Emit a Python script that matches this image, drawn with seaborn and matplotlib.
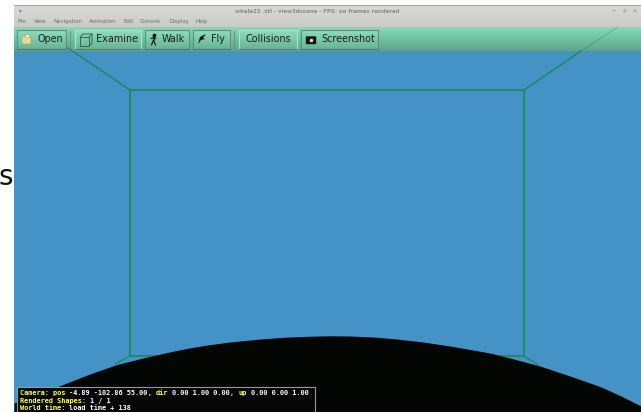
"""
view3dscene window screenshot, drawn in pixel coordinates.
"""
import matplotlib
matplotlib.use('Agg')
import matplotlib.pyplot as plt
from matplotlib.colors import LinearSegmentedColormap
from matplotlib.patches import Rectangle, FancyBboxPatch, Polygon
import numpy as np
import pandas as pd
import seaborn as sns

# wireframe of the room
box_x = [130, 524, 524, 130, 130]
box_y = [90, 90, 356, 356, 90]
diag_left_top_x = [130, 68]
diag_left_top_y = [90, 48]
diag_right_top_x = [524, 581]
diag_right_top_y = [90, 51]
diag_right_faint_x = [581, 618]
diag_right_faint_y = [51, 27]
diag_left_bottom_x = [130, 115]
diag_left_bottom_y = [356, 364]
diag_right_bottom_x = [524, 538]
diag_right_bottom_y = [356, 365]

# whale silhouette
whale_x = [14, 54, 91, 117, 147, 174, 190, 210, 230, 257, 283, 310, 330, 350, 373,
           397, 423, 450, 470, 490, 510, 540, 570, 600, 620, 641]
whale_y = [403, 388, 373.5, 364.5, 357, 351, 347.8, 344.6, 342, 339.3, 337.3, 336.2, 335.8, 336, 337,
           339, 342, 346, 349.5, 353, 358, 366, 376, 386.5, 395.5, 406]

menu_items = ['File', 'View', 'Navigation', 'Animation', 'Edit', 'Console', 'Display', 'Help']
menu_pos = [18, 34, 54, 89, 124, 140, 169, 196]
button_labels = ['Open', 'Examine', 'Walk', 'Fly', 'Collisions', 'Screenshot']
button_left = [17, 75, 145, 193, 239, 301]
button_right = [66, 141, 189, 230, 297, 378]
button_pressed = [False, True, False, False, True, False]
label_left = [37, 96, 162, 211, 246, 321]

# (char offset, text, colour) runs of the status box
status_rows = [
    [(0, 'Camera: pos', '#ffff55'), (12, '-4.89 -102.86 55.00', '#ffffff'), (31, ',', '#ffff55'),
     (33, 'dir', '#ffff55'), (37, '0.00 1.00 0.00', '#ffffff'), (51, ',', '#ffff55'),
     (53, 'up', '#ffff55'), (56, '0.00 0.00 1.00', '#ffffff')],
    [(0, 'Rendered Shapes:', '#ffff55'), (17, '1 / 1', '#ffffff')],
    [(0, 'World time:', '#ffff55'), (12, 'load time + 138', '#ffffff')],
]
status_y = [393, 401, 408.5]

sns.set_theme(style='white')
plt.rcParams['font.family'] = ['DejaVu Sans']

fig = plt.figure(figsize=(6.41, 4.12), dpi=100, facecolor='white')
ax = fig.add_axes([0, 0, 1, 1])


def gradient(top, bottom, x0, x1, y0, y1, z):
    cmap = LinearSegmentedColormap.from_list('g', [top, bottom])
    ax.imshow(np.linspace(0, 1, 64).reshape(-1, 1), cmap=cmap, aspect='auto',
              extent=[x0, x1, y1, y0], zorder=z)


# window chrome and scene background
ax.add_patch(Rectangle((14, 51), 627, 361, color='#4592c6', lw=0, zorder=1))
gradient('#d9d9d6', '#cbcbc8', 14, 641, 5, 27, 1)
gradient('#82dcbc', '#5da58c', 14, 641, 27, 51, 1)
ax.plot([14, 641], [5.3, 5.3], color='#a8a8a8', lw=0.8, zorder=2)

# whale
ax.fill_between(whale_x, whale_y, 412, color='#030603', lw=0, zorder=4)

# wireframe
line_color = '#1d8a5e'
for xs, ys, lw, alpha in [
    (box_x, box_y, 1.3, 1),
    (diag_left_top_x, diag_left_top_y, 1.1, 1),
    (diag_right_top_x, diag_right_top_y, 1.1, 1),
    (diag_right_faint_x, diag_right_faint_y, 0.8, 0.35),
    (diag_left_bottom_x, diag_left_bottom_y, 1.0, 1),
    (diag_right_bottom_x, diag_right_bottom_y, 1.0, 1),
]:
    df = pd.DataFrame({'x': xs, 'y': ys})
    sns.lineplot(data=df, x='x', y='y', sort=False, estimator=None, color=line_color,
                 lw=lw, alpha=alpha, ax=ax, zorder=3)

# title bar and menu
ax.text(317, 11, 'whale23 .stl - view3dscene - FPS: no frames rendered', fontsize=3.9,
        color='#8a8a8a', ha='center', va='center', fontweight='bold', zorder=6)
for name, px in zip(menu_items, menu_pos):
    ax.text(px, 21, name, fontsize=3.9, color='#707070', va='center', zorder=6)
ax.text(20.5, 11, '▾', fontsize=4, color='#777777', ha='center', va='center', zorder=6)
for px, ch in zip([613, 624, 634], ['−', '+', '×']):
    ax.text(px, 11, ch, fontsize=5, color='#999999', ha='center', va='center', zorder=6)

# toolbar buttons
for name, x0, x1, tx, pressed in zip(button_labels, button_left, button_right, label_left, button_pressed):
    gradient('#8edcc0', '#68b498', x0, x1, 30, 49, 5)
    ec = '#a6e6cf' if pressed else '#5f8f7e'
    ax.add_patch(Rectangle((x0, 30), x1 - x0, 19, fc='none', ec=ec, lw=0.8, zorder=5))
    ax.plot([x0, x1], [49, 49], color='#4f7d6d', lw=0.8, zorder=5)
    ax.text(tx, 39.2, name, fontsize=6.9, color='#14201c', va='center', zorder=6)
for px in [70, 234]:
    ax.plot([px, px], [31, 48], color='#5f9e8a', lw=0.8, zorder=5)

# toolbar icons
ax.add_patch(FancyBboxPatch((22.5, 36.5), 8, 7, boxstyle='round,pad=0.5', fc='#e6dc9a', ec='#b0a45c', lw=0.5, zorder=6))
ax.add_patch(Rectangle((24.5, 33.5), 4, 3, fc='#f3f0d8', ec='#a89a50', lw=0.4, zorder=6))
ax.add_patch(Rectangle((80, 37), 9, 9, fc='none', ec='#35504a', lw=0.6, zorder=6))
ax.plot([80, 83, 92, 92, 89], [37, 34, 34, 43, 46], color='#35504a', lw=0.6, zorder=6)
ax.plot([89, 92], [37, 34], color='#35504a', lw=0.6, zorder=6)
ax.plot([151.5, 153.5, 155.5], [45, 40, 45], color='#101010', lw=0.8, zorder=6)
ax.plot([151, 153.5, 156], [38.5, 37.5, 38.5], color='#101010', lw=0.8, zorder=6)
ax.plot([153.5, 153.5], [37, 40], color='#101010', lw=1.1, zorder=6)
ax.plot([153.5], [35.3], 'o', ms=1.7, color='#101010', zorder=6)
ax.add_patch(Polygon([[198, 44], [200, 37], [206, 34], [203, 38], [205, 39], [201, 40]], fc='#101010', lw=0, zorder=6))
ax.add_patch(FancyBboxPatch((306.5, 37), 9, 6.5, boxstyle='round,pad=0.5', fc='#151515', ec='#151515', lw=0.3, zorder=6))
ax.plot([311], [40.2], 'o', ms=3, mfc='#dddddd', mec='#151515', mew=0.5, zorder=6)

# stray letter left of the window
ax.text(13, 185, 's', fontsize=20, color='#111111', ha='right', va='baseline', zorder=6)

# status box
ax.add_patch(Rectangle((17, 386.5), 298, 30, fc='#060606', ec='#a5a53a', lw=0.8, zorder=7))
char_w = 4.13
for row, py in zip(status_rows, status_y):
    for offset, text, color in row:
        ax.text(19.5 + offset * char_w, py, text, color=color, fontsize=4.95, family='DejaVu Sans Mono',
                fontweight='bold', va='center', zorder=8)

ax.set_xlim(0, 641)
ax.set_ylim(412, 0)
ax.axis('off')
plt.savefig('out.png', dpi=100)
